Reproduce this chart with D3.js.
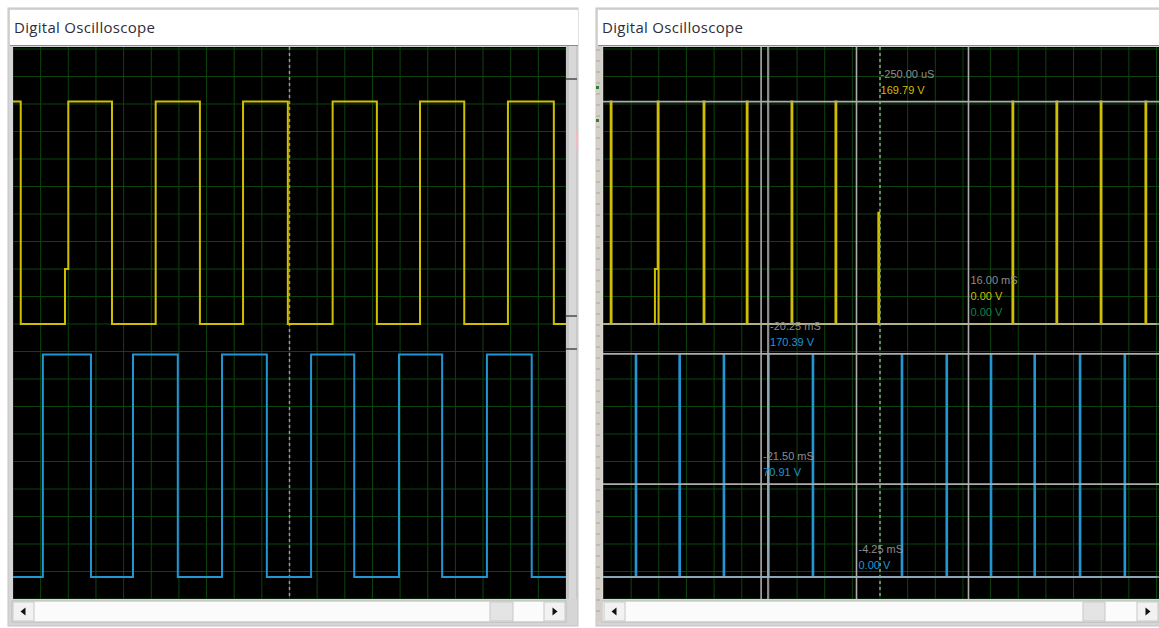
<!DOCTYPE html>
<html>
<head>
<meta charset="utf-8">
<script src="https://cdn.jsdelivr.net/npm/d3@7/dist/d3.min.js"></script>
<style>
  body { margin: 0; background: #fff; }
  svg { display: block; }
</style>
</head>
<body>
<script>
// 两个示波器窗口：左边 2.5 ms/div，右边 5 ms/div

// 左窗口 —— 阶梯点 (ms, V)
let leftYellowT = [-25, -24.3, -20.3, -20.0, -16.05, -12.1, -8.1, -4.2, -0.15, 3.9, 7.9, 11.8, 15.8, 19.75, 23.9, 25]
let leftYellowV = [170, 0, 42, 170, 0, 170, 0, 170, 0, 170, 0, 170, 0, 170, 0, 0]
let leftBlueT = [-25, -22.3, -17.95, -14.15, -10.1, -6.1, -2.05, 1.95, 5.85, 9.9, 13.8, 17.85, 21.9, 25]
let leftBlueV = [0, 170, 0, 170, 0, 170, 0, 170, 0, 170, 0, 170, 0, 0]

// 右窗口 —— 窄脉冲 (ms, 峰值 V)
let rightYellowPulseT = [-48.7, -40.2, -31.9, -24.1, -16.0, -8.05, -0.3, 23.95, 31.9, 39.9, 48.0]
let rightYellowPulseV = [170, 170, 170, 170, 170, 170, 85, 170, 170, 170, 170]
let rightYellowGlitchT = [-40.7]
let rightYellowGlitchV = [42]
let rightBluePulseT = [-44.2, -36.3, -28.3, -20.25, -12.2, 3.9, 12.0, 20.0, 27.9, 36.1, 44.2]
let rightBluePulseV = [170, 170, 170, 170, 170, 170, 170, 170, 170, 170, 170]

// 光标读数
let cursorT = [-0.25, -20.25, -21.5, -4.25, 16.0]
let cursorChannel = ['yellow', 'blue', 'blue', 'blue', 'yellow']
let cursorVolts = [169.79, 170.39, 70.91, 0.00, 0.00]
let cursorGreenV = [null, null, null, null, 0.00]
let cursorHasLine = [false, true, true, true, true]

let voltsPerDiv = 21
let channelOffsetDiv = { yellow: 10, blue: 0.8, green: 10 }
let channelColor = { yellow: '#d0be00', blue: '#2196d3', green: '#12804a' }

let W = 1159, H = 628
let plotTop = 47, plotBottom = 599

let svg = d3.select('body').append('svg').attr('width', W).attr('height', H)
  .style('font-family', 'Liberation Sans, Arial, sans-serif')

// 纵向比例尺（格）
let yDiv = d3.scaleLinear().domain([0, 20]).range([plotBottom, 49])
function yVolt(ch, v) { return yDiv(channelOffsetDiv[ch] + v / voltsPerDiv) }

function drawWindow(x0, x1, plotL, plotR, xScale, clipId) {
  // 外框
  svg.append('rect').attr('x', x0).attr('y', 8).attr('width', x1 - x0).attr('height', 618)
    .attr('fill', '#d6d6d6').attr('stroke', '#c4c4c4')
  svg.append('rect').attr('x', x0 + 2).attr('y', 10).attr('width', x1 - x0 - 2).attr('height', 35).attr('fill', '#fff')
  svg.append('text').attr('x', x0 + 6).attr('y', 33).text('Digital Oscilloscope')
    .attr('font-family', 'Open Sans, Noto Sans, sans-serif').attr('font-size', 15)
    .attr('letter-spacing', 0.3).attr('fill', '#2e2e3a')
  svg.append('line').attr('x1', x0 + 2).attr('x2', x1).attr('y1', 45.5).attr('y2', 45.5).attr('stroke', '#8a8a8a')

  svg.append('clipPath').attr('id', clipId).append('rect')
    .attr('x', plotL).attr('y', plotTop).attr('width', plotR - plotL).attr('height', plotBottom - plotTop)
  svg.append('rect').attr('x', plotL).attr('y', plotTop).attr('width', plotR - plotL).attr('height', plotBottom - plotTop)
    .attr('fill', '#000')
  let g = svg.append('g').attr('clip-path', 'url(#' + clipId + ')')

  // 网格
  let dom = xScale.domain(), step = (dom[1] - dom[0]) / 20
  g.selectAll('.vg').data(d3.range(0, 21)).enter().append('line')
    .attr('x1', d => xScale(dom[0] + d * step)).attr('x2', d => xScale(dom[0] + d * step))
    .attr('y1', plotTop).attr('y2', plotBottom).attr('stroke', '#0d440d').attr('stroke-width', 1)
  g.selectAll('.hg').data(d3.range(0, 21)).enter().append('line')
    .attr('x1', plotL).attr('x2', plotR).attr('y1', d => yDiv(d)).attr('y2', d => yDiv(d))
    .attr('stroke', '#0d440d').attr('stroke-width', 1)

  // 滚动条
  let sy = 601, sh = 21
  svg.append('rect').attr('x', plotL - 1).attr('y', sy).attr('width', plotR - plotL + 1).attr('height', sh)
    .attr('fill', '#fbfbfb').attr('stroke', '#b8b8b8')
  return g
}

function drawScrollButtons(l, r, thumbL, thumbR) {
  let sy = 601, sh = 21
  svg.append('rect').attr('x', thumbL).attr('y', sy + 1).attr('width', thumbR - thumbL).attr('height', sh - 2)
    .attr('fill', '#e4e4e4').attr('stroke', '#c8c8c8')
  ;[[l, l + 21, -1], [r - 21, r, 1]].forEach(b => {
    svg.append('rect').attr('x', b[0]).attr('y', sy + 1).attr('width', b[1] - b[0]).attr('height', sh - 2)
      .attr('fill', '#f2f2f2').attr('stroke', '#c8c8c8')
    let cx = (b[0] + b[1]) / 2, cy = sy + sh / 2
    svg.append('path').attr('fill', '#111')
      .attr('d', b[2] < 0 ? `M${cx + 2},${cy - 4}L${cx - 3},${cy}L${cx + 2},${cy + 4}Z` : `M${cx - 2},${cy - 4}L${cx + 3},${cy}L${cx - 2},${cy + 4}Z`)
  })
}

let stepLine = d3.line().curve(d3.curveStepAfter)

// ---------- 左窗口 ----------
let xLeft = d3.scaleLinear().domain([-25, 25]).range([13, 566])
let gL = drawWindow(8, 578, 13, 566, xLeft, 'clipL')
// 右侧竖条
svg.append('rect').attr('x', 566).attr('y', 46).attr('width', 11).attr('height', 553).attr('fill', '#c6c6c6')
svg.append('rect').attr('x', 569).attr('y', 46).attr('width', 7).attr('height', 553).attr('fill', '#d8d8d8')
;[78, 315, 348].forEach(y => svg.append('rect').attr('x', 566).attr('y', y).attr('width', 11).attr('height', 2).attr('fill', '#6e6e6e'))
svg.append('rect').attr('x', 576).attr('y', 132).attr('width', 2).attr('height', 18).attr('fill', '#f3b9c0')
drawScrollButtons(13, 565, 490, 513)

gL.append('line').attr('x1', xLeft(0)).attr('x2', xLeft(0)).attr('y1', plotTop).attr('y2', plotBottom)
  .attr('stroke', '#9a9a9a').attr('stroke-width', 1.5).attr('stroke-dasharray', '3,3')
gL.append('path').attr('d', stepLine(leftYellowT.map((t, i) => [xLeft(t), yVolt('yellow', leftYellowV[i])])))
  .attr('fill', 'none').attr('stroke', channelColor.yellow).attr('stroke-width', 2)
gL.append('path').attr('d', stepLine(leftBlueT.map((t, i) => [xLeft(t), yVolt('blue', leftBlueV[i])])))
  .attr('fill', 'none').attr('stroke', channelColor.blue).attr('stroke-width', 2)

// ---------- 右窗口 ----------
let xRight = d3.scaleLinear().domain([-50, 50]).range([603.5, 1156.5])
let gR = drawWindow(596, 1160, 603, 1159, xRight, 'clipR')
svg.append('rect').attr('x', 596).attr('y', 46).attr('width', 6).attr('height', 576).attr('fill', '#d4d0c8')
svg.selectAll('.tk').data(d3.range(50, 620, 11)).enter().append('line')
  .attr('x1', 596).attr('x2', 600).attr('y1', d => d).attr('y2', d => d).attr('stroke', '#aaa69c')
;[87, 120].forEach(y => svg.append('rect').attr('x', 596).attr('y', y - 1).attr('width', 3).attr('height', 3).attr('fill', '#2e7d32'))
drawScrollButtons(604, 1158, 1083, 1105)

// 脉冲转换为阶梯点
function pulsePoints(ch, pt, pv, gt, gv) {
  let pts = [[-50, 0]]
  pt.forEach((t, i) => {
    let gi = gt ? gt.findIndex(x => Math.abs(x - t) < 1) : -1
    if (gi >= 0) pts.push([gt[gi], gv[gi]])
    pts.push([t, pv[i]], [t + 0.15, 0])
  })
  pts.push([50, 0])
  return pts.map(p => [xRight(p[0]), yVolt(ch, p[1])])
}
gR.append('path').attr('d', stepLine(pulsePoints('yellow', rightYellowPulseT, rightYellowPulseV, rightYellowGlitchT, rightYellowGlitchV)))
  .attr('fill', 'none').attr('stroke', channelColor.yellow).attr('stroke-width', 2)
gR.append('path').attr('d', stepLine(pulsePoints('blue', rightBluePulseT, rightBluePulseV)))
  .attr('fill', 'none').attr('stroke', channelColor.blue).attr('stroke-width', 1.8)

// 光标线
cursorT.forEach((t, i) => {
  gR.append('line').attr('x1', 603).attr('x2', 1159)
    .attr('y1', yVolt(cursorChannel[i], cursorVolts[i])).attr('y2', yVolt(cursorChannel[i], cursorVolts[i]))
    .attr('stroke', '#acacac').attr('stroke-width', 1.6)
  if (cursorHasLine[i]) {
    gR.append('line').attr('x1', xRight(t)).attr('x2', xRight(t)).attr('y1', plotTop).attr('y2', plotBottom)
      .attr('stroke', '#acacac').attr('stroke-width', 1.6)
  }
})
gR.append('line').attr('x1', xRight(0)).attr('x2', xRight(0)).attr('y1', plotTop).attr('y2', plotBottom)
  .attr('stroke', '#9a9a9a').attr('stroke-width', 1.5).attr('stroke-dasharray', '3,3')

// 光标文字
function fmtTime(t) { return Math.abs(t) < 1 ? (t * 1000).toFixed(2) + ' uS' : t.toFixed(2) + ' mS' }
cursorT.forEach((t, i) => {
  let lines = [[fmtTime(t), '#8e8e8e'], [cursorVolts[i].toFixed(2) + ' V', channelColor[cursorChannel[i]]]]
  if (cursorGreenV[i] !== null) lines.push([cursorGreenV[i].toFixed(2) + ' V', channelColor.green])
  let base = yVolt(cursorChannel[i], cursorVolts[i]) - 8 - 16 * (lines.length - 1)
  lines.forEach((l, k) => {
    gR.append('text').attr('x', xRight(t) + 2).attr('y', base + 16 * k).text(l[0])
      .attr('font-size', 11).attr('fill', l[1])
  })
})
</script>
</body>
</html>
